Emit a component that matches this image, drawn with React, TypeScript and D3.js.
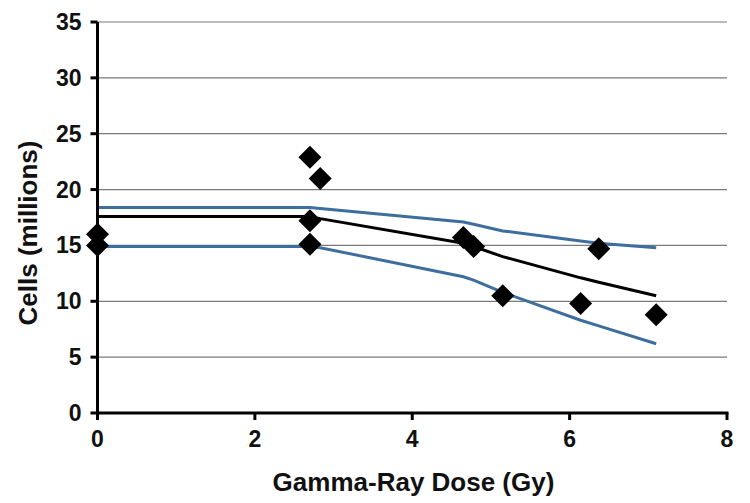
import * as d3 from 'd3'

// dose (Gy) and cell counts (millions)
const pointDose = [0, 0, 2.7, 2.83, 2.7, 2.7, 4.65, 4.78, 5.15, 6.14, 6.37, 7.1]
const pointCells = [16.0, 15.0, 22.9, 21.0, 17.2, 15.1, 15.7, 14.9, 10.5, 9.8, 14.7, 8.8]

const fitDose = [0, 2.7, 2.83, 4.65, 4.78, 5.15, 6.14, 6.37, 7.1]
const fitMean = [17.6, 17.6, 17.4, 15.2, 14.9, 14.0, 12.1, 11.7, 10.5]
const fitUpper = [18.4, 18.4, 18.3, 17.1, 16.9, 16.3, 15.4, 15.2, 14.8]
const fitLower = [14.9, 14.9, 14.8, 12.2, 11.9, 10.8, 8.3, 7.8, 6.2]

const xTicks = [0, 2, 4, 6, 8]
const yTicks = [0, 5, 10, 15, 20, 25, 30, 35]

const width = 750
const height = 503
const margin = { top: 22, right: 23, bottom: 90, left: 97.5 }

const font = '"Liberation Sans", Arial, sans-serif'
const blue = '#3d6e9d'

const App = () => {
  const x = d3.scaleLinear().domain([0, 8]).range([margin.left, width - margin.right])
  const y = d3.scaleLinear().domain([0, 35]).range([height - margin.bottom, margin.top])

  const line = d3
    .line<[number, number]>()
    .x((d) => x(d[0]))
    .y((d) => y(d[1]))

  const series = [
    { vals: fitUpper, color: blue },
    { vals: fitLower, color: blue },
    { vals: fitMean, color: '#000' },
  ]

  const r = 11.5
  const diamond = `M0,${-r}L${r},0L0,${r}L${-r},0Z`

  return (
    <svg
      width={width}
      height={height}
      style={{ position: 'absolute', left: 0, top: 0, background: '#fff' }}
    >
      <g className="grid">
        {yTicks.slice(1).map((t) => (
          <line
            key={t}
            x1={x(0)}
            x2={x(8)}
            y1={y(t)}
            y2={y(t)}
            stroke="#7a7a7a"
            strokeWidth={1.2}
          />
        ))}
      </g>
      <g className="lines">
        {series.map((s, i) => (
          <path
            key={i}
            d={line(fitDose.map((d, j) => [d, s.vals[j]])) || ''}
            fill="none"
            stroke={s.color}
            strokeWidth={3}
          />
        ))}
      </g>
      <g className="points">
        {pointDose.map((d, i) => (
          <path key={i} d={diamond} transform={`translate(${x(d)},${y(pointCells[i])})`} fill="#000" />
        ))}
      </g>
      <g className="axes" stroke="#000" strokeWidth={3}>
        <line x1={x(0)} x2={x(0)} y1={y(35)} y2={y(0) + 1.5} />
        <line x1={x(0) - 1.5} x2={x(8) + 1.5} y1={y(0)} y2={y(0)} />
        {yTicks.map((t) => (
          <line key={'y' + t} x1={x(0) - 7} x2={x(0)} y1={y(t)} y2={y(t)} />
        ))}
        {xTicks.map((t) => (
          <line key={'x' + t} x1={x(t)} x2={x(t)} y1={y(0)} y2={y(0) + 7} />
        ))}
      </g>
      <g fontFamily={font} fontWeight="bold" fontSize={23} fill="#111">
        {yTicks.map((t) => (
          <text key={t} x={x(0) - 16} y={y(t) + 8} textAnchor="end">
            {t}
          </text>
        ))}
        {xTicks.map((t) => (
          <text key={t} x={x(t)} y={y(0) + 34} textAnchor="middle">
            {t}
          </text>
        ))}
      </g>
      <text
        x={413.5}
        y={491}
        textAnchor="middle"
        fontFamily={font}
        fontWeight="bold"
        fontSize={26}
        fill="#111"
      >
        Gamma-Ray Dose (Gy)
      </text>
      <text
        transform="translate(37,233) rotate(-90)"
        textAnchor="middle"
        fontFamily={font}
        fontWeight="bold"
        fontSize={26}
        fill="#111"
      >
        Cells (millions)
      </text>
    </svg>
  )
}

export default App
